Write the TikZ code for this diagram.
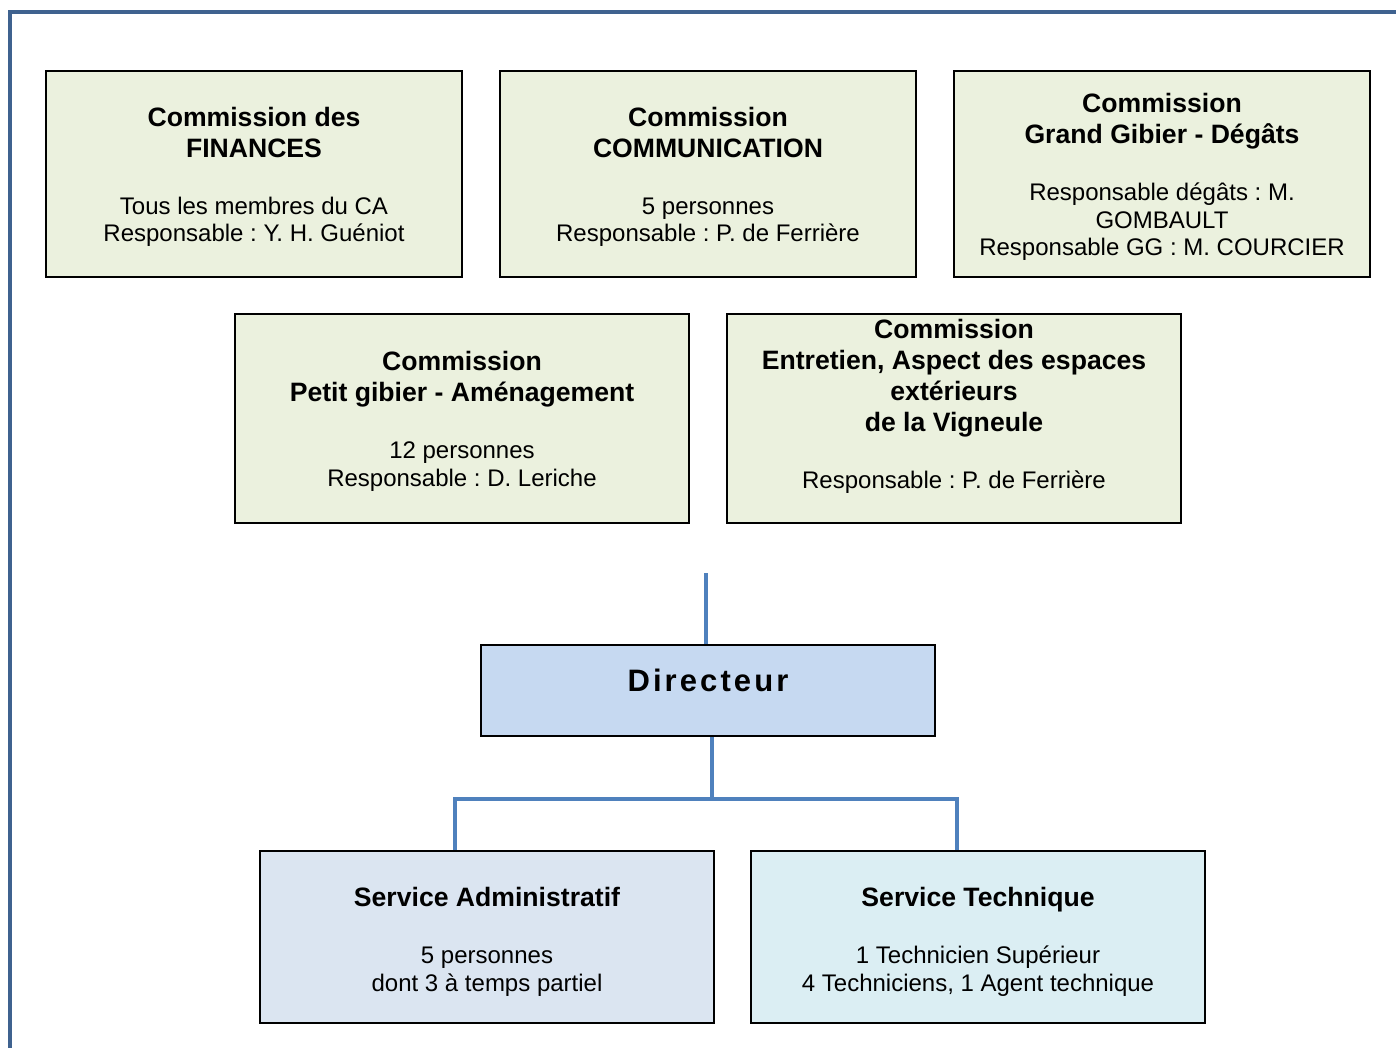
\documentclass[tikz,border=0pt]{standalone}
\usepackage{fontspec}
\setmainfont{Liberation Sans}
\newfontfamily\dirfont[LetterSpace=10]{Liberation Sans}
\frenchspacing
\definecolor{framecol}{RGB}{63,98,143}
\definecolor{conncol}{RGB}{79,129,189}
\definecolor{greenbox}{RGB}{235,241,222}
\definecolor{dirbox}{RGB}{198,217,241}
\definecolor{adminbox}{RGB}{219,229,241}
\definecolor{techbox}{RGB}{219,238,243}
\newcommand\titf{\bfseries\fontsize{26.6}{31}\selectfont}
\newcommand\bodf{\mdseries\fontsize{24}{27.5}\selectfont}
\newcommand\blockb[1]{\begin{minipage}{460pt}\frenchspacing\centering #1\par\end{minipage}}
\begin{document}
\begin{tikzpicture}[x=1pt,y=-1pt,
  box/.style={draw=black,line width=2.2pt,rectangle,inner sep=0pt},
  wide/.style={minimum width=416pt,minimum height=206pt},
  mid/.style={minimum width=454pt,minimum height=209pt},
  txt/.style={inner sep=0pt},
  conn/.style={draw=conncol,line width=3.2pt}]
\useasboundingbox (0,0) rectangle (1396,1047);
\draw[framecol,line width=4pt] (10,1050) -- (10,12) -- (1400,12);
% row 1
\node[box,wide,fill=greenbox] (fin) at (254,174) {};
\node[txt] at ([yshift=-3pt]fin.center) {\blockb{\titf Commission des\par FINANCES\par\vspace{29.5pt}\bodf Tous les membres du CA\par Responsable : Y. H. Guéniot}};
\node[box,wide,fill=greenbox] (com) at (708,174) {};
\node[txt] at ([yshift=-3pt]com.center) {\blockb{\titf Commission\par COMMUNICATION\par\vspace{29.5pt}\bodf 5 personnes\par Responsable : P. de Ferrière}};
\node[box,wide,fill=greenbox] (gg) at (1162,174) {};
\node[txt] at ([yshift=-3pt]gg.center) {\blockb{\titf Commission\par Grand Gibier - Dégâts\par\vspace{29.5pt}\bodf Responsable dégâts : M.\par GOMBAULT\par Responsable GG : M. COURCIER}};
% row 2
\node[box,mid,fill=greenbox] (pg) at (462,418.5) {};
\node[txt] at ([yshift=-3pt]pg.center) {\blockb{\titf Commission\par Petit gibier - Aménagement\par\vspace{29.5pt}\bodf 12 personnes\par Responsable : D. Leriche}};
\node[box,mid,fill=greenbox] (ent) at (954,418.5) {};
\node[txt] at ([yshift=12pt]ent.center) {\blockb{\titf Commission\par Entretien, Aspect des espaces\par extérieurs\par de la Vigneule\par\vspace{29.5pt}\bodf Responsable : P. de Ferrière}};
% director
\node[box,minimum width=454pt,minimum height=91pt,fill=dirbox] (dir) at (708,690.5) {};
\node[inner sep=0pt] at ([yshift=10pt]dir.center) {\dirfont\bfseries\fontsize{31}{36}\selectfont Directeur};
% services
\node[box,minimum width=454pt,minimum height=172pt,fill=adminbox] (sa) at (487,937) {};
\node[txt] at ([yshift=-5pt]sa.center) {\blockb{\titf Service Administratif\par\vspace{29.5pt}\bodf 5 personnes\par dont 3 à temps partiel}};
\node[box,minimum width=454pt,minimum height=172pt,fill=techbox] (st) at (978,937) {};
\node[txt] at ([yshift=-5pt]st.center) {\blockb{\titf Service Technique\par\vspace{29.5pt}\bodf 1 Technicien Supérieur\par 4 Techniciens, 1 Agent technique}};
% connectors
\coordinate (topfree) at (706,573);
\coordinate (jl) at (455,799);
\coordinate (jr) at (957,799);
\draw[conn] (topfree) -- (topfree |- dir.north);
\draw[conn] ([xshift=4pt]dir.south) -- ([xshift=4pt]dir.south |- jl);
\draw[conn] (jl |- sa.north) -- (jl) -- (jr) -- (jr |- st.north);
\end{tikzpicture}
\end{document}
